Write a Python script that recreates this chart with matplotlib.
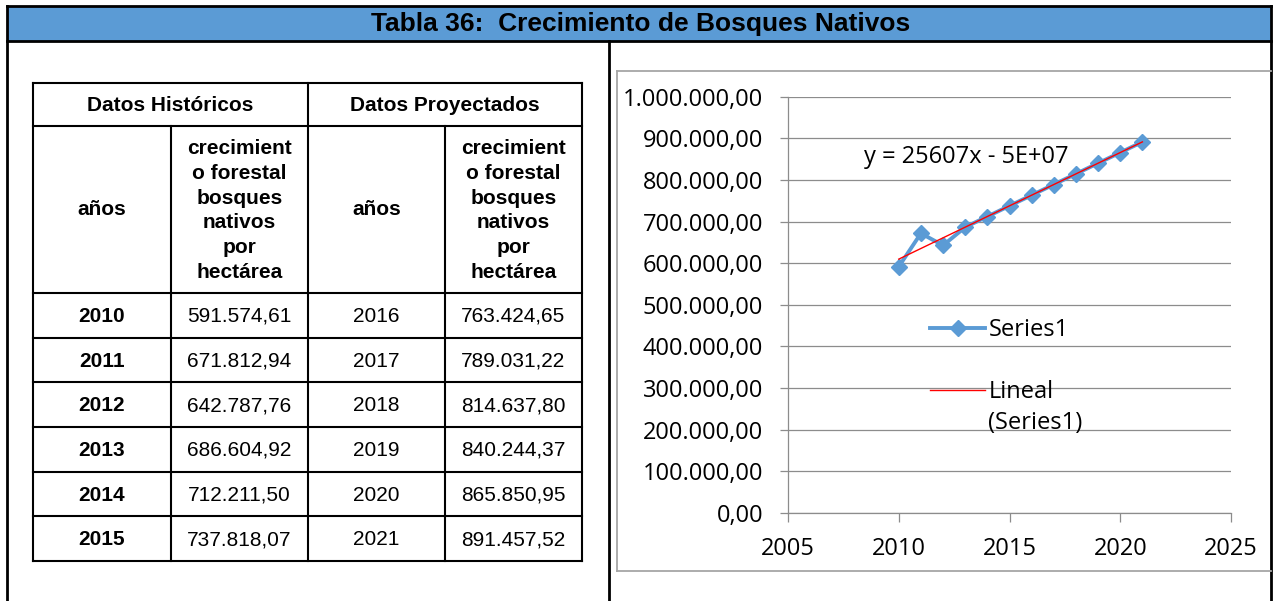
import matplotlib.pyplot as plt
import numpy as np
from matplotlib.patches import Rectangle
from matplotlib.lines import Line2D
from matplotlib.ticker import FuncFormatter

plt.rcParams['font.family'] = ['Open Sans', 'DejaVu Sans']

## datos de la tabla y del grafico
titulo = "Tabla 36:  Crecimiento de Bosques Nativos"
grupos = ["Datos Históricos", "Datos Proyectados"]
col_anio = "años"
col_crec = "crecimient\no forestal\nbosques\nnativos\npor\nhectárea"
anios_hist = [2010, 2011, 2012, 2013, 2014, 2015]
crec_hist = [591574.61, 671812.94, 642787.76, 686604.92, 712211.50, 737818.07]
anios_proy = [2016, 2017, 2018, 2019, 2020, 2021]
crec_proy = [763424.65, 789031.22, 814637.80, 840244.37, 865850.95, 891457.52]
ecuacion = "y = 25607x - 5E+07"
serie = "Series1"
tendencia = ["Lineal", "(Series1)"]


def es(v):
    # formato 1.234,56
    s = f"{v:,.2f}"
    return s.replace(",", "#").replace(".", ",").replace("#", ".")


W, H = 1274, 601
fig = plt.figure(figsize=(W / 100, H / 100), dpi=100)

##fondo: marco, titulo y tabla en pixeles
bg = fig.add_axes([0, 0, 1, 1])
bg.set_xlim(0, W)
bg.set_ylim(H, 0)
bg.axis('off')
arial = 'Liberation Sans'

bg.add_patch(Rectangle((7, 7), 1264, 33.5, facecolor='#5B9BD5', edgecolor='none'))
bg.text(W / 2 + 4, 24, titulo, ha='center', va='center', fontsize=19,
        fontweight='bold', family=arial)
borde = dict(color='black', lw=2, solid_capstyle='projecting')
bg.plot([7, 7], [6, H + 5], **borde)
bg.plot([1271, 1271], [6, H + 5], **borde)
bg.plot([7, 1271], [6, 6], **borde)
bg.plot([7, 1271], [40.5, 40.5], **borde)
bg.plot([609, 609], [40.5, H + 5], **borde)

# marco del grafico
gris_m = '#A6A6A6'
bg.plot([617, 1271], [71, 71], color=gris_m, lw=1.3)
bg.plot([617, 617], [71, 571], color=gris_m, lw=1.3)
bg.plot([617, 1271], [571, 571], color=gris_m, lw=1.3)

# tabla
xs = [33, 171, 308, 445, 582]
ys = [83, 126, 293] + [293 + 44.67 * (i + 1) for i in range(6)]
lin = dict(color='black', lw=1.5, solid_capstyle='projecting')
for y in ys:
    bg.plot([xs[0], xs[-1]], [y, y], **lin)
for x in [xs[0], xs[2], xs[4]]:
    bg.plot([x, x], [ys[0], ys[-1]], **lin)
for x in [xs[1], xs[3]]:
    bg.plot([x, x], [ys[1], ys[-1]], **lin)

fs = 15
for g, grupo in enumerate(grupos):
    x0 = xs[2 * g]
    x1 = xs[2 * g + 2]
    bg.text((x0 + x1) / 2, (ys[0] + ys[1]) / 2 + 1, grupo, ha='center', va='center',
            fontsize=fs, fontweight='bold', family=arial)
    bg.text((xs[2 * g] + xs[2 * g + 1]) / 2, (ys[1] + ys[2]) / 2, col_anio,
            ha='center', va='center', fontsize=fs, fontweight='bold', family=arial)
    bg.text((xs[2 * g + 1] + xs[2 * g + 2]) / 2, (ys[1] + ys[2]) / 2 + 1, col_crec,
            ha='center', va='center', fontsize=fs, fontweight='bold', family=arial,
            linespacing=1.38)

for i in range(len(anios_hist)):
    yc = (ys[2 + i] + ys[3 + i]) / 2 + 1
    bg.text((xs[0] + xs[1]) / 2, yc, str(anios_hist[i]), ha='center', va='center',
            fontsize=fs, fontweight='bold', family=arial)
    bg.text((xs[1] + xs[2]) / 2, yc, es(crec_hist[i]), ha='center', va='center',
            fontsize=fs, family=arial)
    bg.text((xs[2] + xs[3]) / 2, yc, str(anios_proy[i]), ha='center', va='center',
            fontsize=fs, family=arial)
    bg.text((xs[3] + xs[4]) / 2, yc, es(crec_proy[i]), ha='center', va='center',
            fontsize=fs, family=arial)

##grafico
azul = '#5B9BD5'
gris = '#8C8C8C'
anios = anios_hist + anios_proy
crec = crec_hist + crec_proy

ax = fig.add_axes([788 / W, (H - 513) / H, 443 / W, 416.3 / H])
ax.patch.set_alpha(0)
ax.plot(anios, crec, color=azul, lw=2.8, marker='D', ms=8.5, mec=azul, mfc=azul,
        zorder=3)
coef = np.polyfit(anios, crec, 1)
xt = np.array([anios[0], anios[-1]])
ax.plot(xt, np.polyval(coef, xt), color='#FF0000', lw=1.0, zorder=4)

ax.set_xlim(2005, 2025)
ax.set_xticks(range(2005, 2026, 5))
ax.set_ylim(0, 1000000)
ax.set_yticks(np.arange(0, 1000001, 100000))
ax.yaxis.set_major_formatter(FuncFormatter(lambda v, p: es(v)))
ax.grid(axis='y', color=gris, lw=0.9)
ax.set_axisbelow(True)
for s in ['top', 'right']:
    ax.spines[s].set_visible(False)
for s in ['left', 'bottom']:
    ax.spines[s].set_color(gris)
    ax.spines[s].set_linewidth(0.9)
ax.tick_params(axis='y', direction='out', length=6, width=0.9, color=gris, pad=12,
               labelsize=17)
ax.tick_params(axis='x', direction='out', length=6.5, width=0.9, color=gris, pad=11,
               labelsize=17)

ax.text(0.1716, 0.855, ecuacion, transform=ax.transAxes, ha='left', va='center',
        fontsize=17)

h1 = Line2D([], [], color=azul, lw=2.8, marker='D', ms=8.5, mec=azul, mfc=azul)
h2 = Line2D([], [], color='#FF0000', lw=1.0)
ax.legend([h1, h2], [serie, tendencia[0]], loc='upper left',
          bbox_to_anchor=(0.3205, 0.4684), frameon=False, fontsize=17,
          handlelength=2.35, handletextpad=0.15, labelspacing=1.6,
          borderpad=0, borderaxespad=0)
ax.text(0.4515, 0.2162, tendencia[1], transform=ax.transAxes, ha='left',
        va='center', fontsize=17)

fig.savefig('out.png', dpi=100)
